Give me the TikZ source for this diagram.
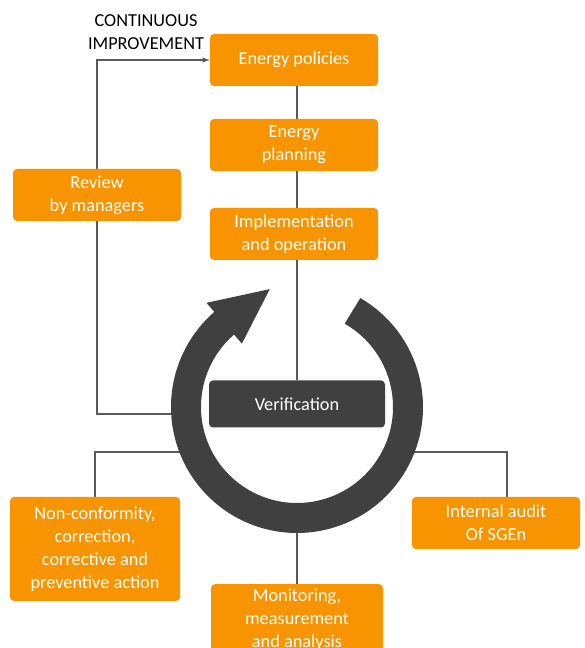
\documentclass[tikz,border=0pt]{standalone}
\usepackage{fontspec}
\setmainfont{Carlito}
\usetikzlibrary{positioning,backgrounds}
\definecolor{boxorange}{RGB}{247,148,0}
\definecolor{ringgray}{RGB}{64,64,64}
\definecolor{linegray}{RGB}{90,90,90}

\begin{document}
\begin{tikzpicture}[x=1pt,y=1pt,
    box/.style={rectangle,rounded corners=4pt,fill=boxorange,text=white,align=center,minimum width=168pt,minimum height=52pt,inner sep=2pt,font=\fontsize{18.3}{23}\selectfont},
    darkbox/.style={box,fill=ringgray,minimum width=176pt,minimum height=47pt},
    link/.style={draw=linegray,line width=1.5pt}]
        \useasboundingbox (0,0) rectangle (584,648);
        % Orange boxes
        \node[box] (policies) at (294,588) {Energy policies};
        \node[box] (planning) at (294,503) {Energy\\planning};
        \node[box] (implement) at (294,414) {Implementation\\and operation};
        \node[box] (review) at (97,453) {Review\\by managers};
        \node[box,minimum width=170pt,minimum height=104pt] (nonconf) at (95,99) {Non-conformity,\\correction,\\corrective and\\preventive action};
        \node[box,anchor=north,minimum width=172pt,inner sep=5pt] (monitor) at (297,64) {Monitoring,\\measurement\\and analysis};
        \node[box] (audit) at (496,125) {Internal audit\\Of SGEn};
        % Upper label
        \node[align=center,font=\fontsize{18.3}{23}\selectfont] (improve) at (146,616) {CONTINUOUS\\IMPROVEMENT};
        % Ring with arrow head
        \begin{scope}[shift={(297,241)}]
            \draw[ringgray,line width=30pt] (60:111) arc[start angle=60,end angle=-230,radius=111];
            \fill[ringgray] (131:138) -- (103:121) -- (131:84) -- cycle;
        \end{scope}
        % Dark box
        \node[darkbox] (verif) at (297,244) {Verification};
        % Connector ends hidden in the ring
        \coordinate (ringW) at (190,234);
        \coordinate (ringSW) at (200,196);
        \coordinate (ringSE) at (394,196);
        \coordinate (ringS) at (297,130);
        \begin{scope}[on background layer]
            \draw[link] (verif) -- (verif |- policies.south);
            \draw[link,-latex] (ringW) -| (review) |- (policies.west);
            \draw[link] (ringSW) -| (nonconf.north);
            \draw[link] (ringSE) -| ([xshift=11pt]audit.north);
            \draw[link] (ringS) -- (ringS |- monitor.north);
        \end{scope}
    \end{tikzpicture}
\end{document}
